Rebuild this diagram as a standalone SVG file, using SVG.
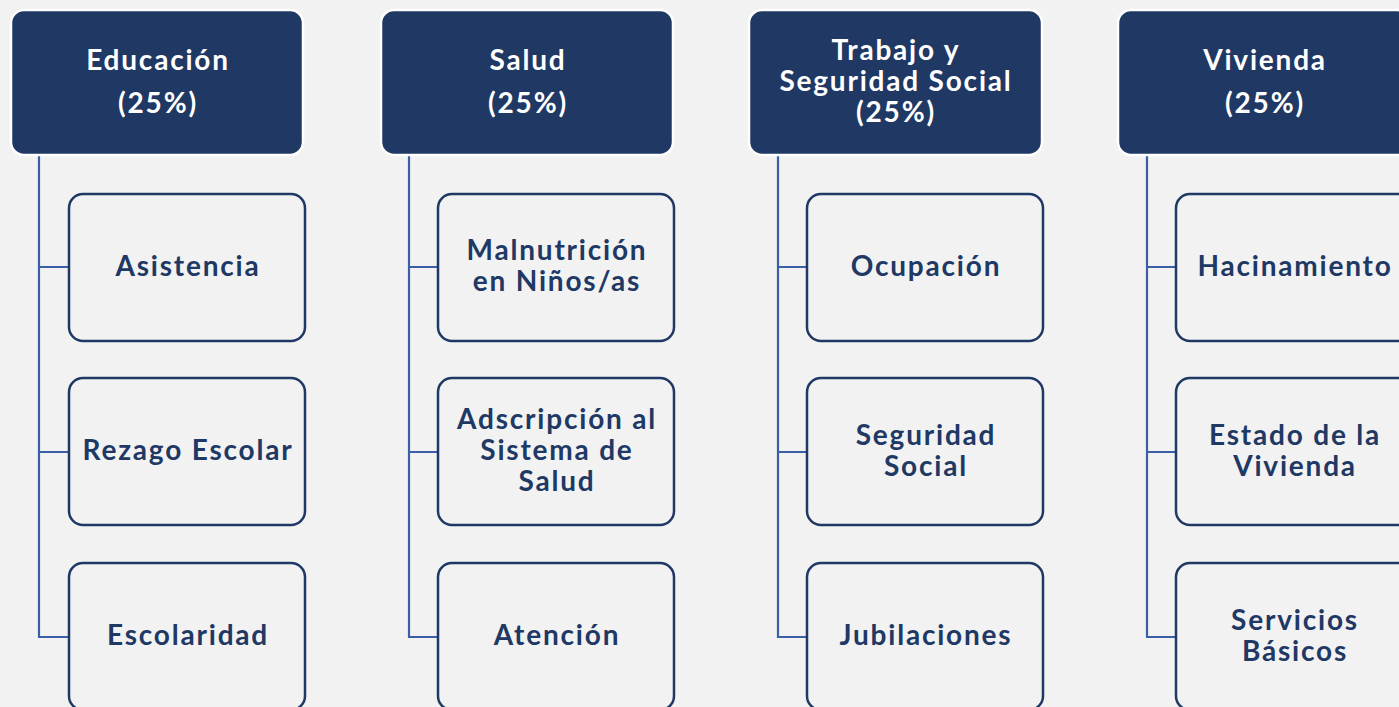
<svg xmlns="http://www.w3.org/2000/svg" width="1399" height="707" viewBox="0 0 1399 707">
<style>
.bg{fill:#f2f2f2}
.hd{fill:#203864;stroke:#ffffff;stroke-width:2.5}
.ch{fill:#f2f2f2;stroke:#203864;stroke-width:2.5}
.ht{font-family:Lato,"Open Sans",sans-serif;font-weight:bold;font-size:28px;letter-spacing:1.8px;fill:#ffffff;text-anchor:middle;dominant-baseline:central}
.ct{font-family:Lato,"Open Sans",sans-serif;font-weight:bold;font-size:28px;letter-spacing:1.8px;fill:#203864;text-anchor:middle;dominant-baseline:central}
.ln{fill:none;stroke:#3a5fa6;stroke-width:2.2}
</style>
<rect class="bg" x="0" y="0" width="1399" height="707"/>
<g id="connectors">
<path class="ln" d="M39,155 V637 H68 M39,267 H68 M39,452 H68"/>
<path class="ln" d="M409,155 V637 H438 M409,267 H438 M409,452 H438"/>
<path class="ln" d="M778,155 V637 H807 M778,267 H807 M778,452 H807"/>
<path class="ln" d="M1147,155 V637 H1176 M1147,267 H1176 M1147,452 H1176"/>
</g>
<g id="educacion">
<rect class="hd" x="11" y="10" width="292" height="145" rx="13"/>
<text class="ht" x="158" y="59">Educación</text>
<text class="ht" x="158" y="102">(25%)</text>
</g>
<g id="asistencia"><rect class="ch" x="69" y="194" width="236" height="147" rx="14"/><text class="ct" x="188" y="265">Asistencia</text></g>
<g id="rezago"><rect class="ch" x="69" y="378" width="236" height="147" rx="14"/><text class="ct" x="188" y="449">Rezago Escolar</text></g>
<g id="escolaridad"><rect class="ch" x="69" y="563" width="236" height="147" rx="14"/><text class="ct" x="188" y="634">Escolaridad</text></g>
<g id="salud">
<rect class="hd" x="381" y="10" width="292" height="145" rx="13"/>
<text class="ht" x="528" y="59">Salud</text>
<text class="ht" x="528" y="102">(25%)</text>
</g>
<g id="malnutricion"><rect class="ch" x="438" y="194" width="236" height="147" rx="14"/><text class="ct" x="557" y="249">Malnutrición</text><text class="ct" x="557" y="280">en Niños/as</text></g>
<g id="adscripcion"><rect class="ch" x="438" y="378" width="236" height="147" rx="14"/><text class="ct" x="557" y="418">Adscripción al</text><text class="ct" x="557" y="449">Sistema de</text><text class="ct" x="557" y="480">Salud</text></g>
<g id="atencion"><rect class="ch" x="438" y="563" width="236" height="147" rx="14"/><text class="ct" x="557" y="634">Atención</text></g>
<g id="trabajo">
<rect class="hd" x="749" y="10" width="293" height="145" rx="13"/>
<text class="ht" x="896" y="49">Trabajo y</text>
<text class="ht" x="896" y="80">Seguridad Social</text>
<text class="ht" x="896" y="111">(25%)</text>
</g>
<g id="ocupacion"><rect class="ch" x="807" y="194" width="236" height="147" rx="14"/><text class="ct" x="926" y="265">Ocupación</text></g>
<g id="seguridad"><rect class="ch" x="807" y="378" width="236" height="147" rx="14"/><text class="ct" x="926" y="434">Seguridad</text><text class="ct" x="926" y="465">Social</text></g>
<g id="jubilaciones"><rect class="ch" x="807" y="563" width="236" height="147" rx="14"/><text class="ct" x="926" y="634">Jubilaciones</text></g>
<g id="vivienda">
<rect class="hd" x="1118" y="10" width="292" height="145" rx="13"/>
<text class="ht" x="1265" y="59">Vivienda</text>
<text class="ht" x="1265" y="102">(25%)</text>
</g>
<g id="hacinamiento"><rect class="ch" x="1176" y="194" width="236" height="147" rx="14"/><text class="ct" x="1295" y="265">Hacinamiento</text></g>
<g id="estado"><rect class="ch" x="1176" y="378" width="236" height="147" rx="14"/><text class="ct" x="1295" y="434">Estado de la</text><text class="ct" x="1295" y="465">Vivienda</text></g>
<g id="servicios"><rect class="ch" x="1176" y="563" width="236" height="147" rx="14"/><text class="ct" x="1295" y="619">Servicios</text><text class="ct" x="1295" y="650">Básicos</text></g>
</svg>
